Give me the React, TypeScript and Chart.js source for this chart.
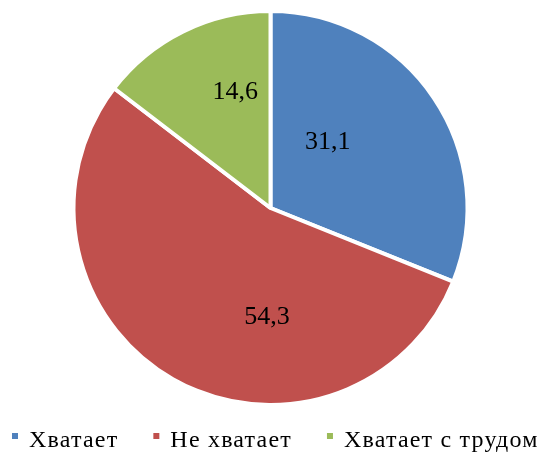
import React, { useEffect, useRef } from "react";
import { Chart, registerables } from "chart.js";

Chart.register(...registerables);

const categories = ["Хватает", "Не хватает", "Хватает с трудом"];
const values = [31.1, 54.3, 14.6];
const valueLabels = ["31,1", "54,3", "14,6"];
const colors = ["#4F81BD", "#C0504D", "#9BBB59"];

const FONT = '"Liberation Serif", "Times New Roman", serif';

const sliceLabelPlugin = {
  id: "sliceLabels",
  afterDatasetsDraw(chart: any, _args: any, opts: any) {
    const ctx = chart.ctx;
    const meta = chart.getDatasetMeta(0);
    ctx.save();
    ctx.font = `${opts.size}px ${FONT}`;
    ctx.fillStyle = "#000";
    ctx.textAlign = "center";
    ctx.textBaseline = "alphabetic";
    meta.data.forEach((arc: any, i: number) => {
      const r = arc.outerRadius;
      const [fx, fy] = opts.anchors[i];
      ctx.fillText(valueLabels[i], arc.x + fx * r, arc.y + fy * r);
    });
    ctx.restore();
  },
};

const bottomLegendPlugin = {
  id: "bottomLegend",
  afterDraw(chart: any, _args: any, opts: any) {
    const ctx = chart.ctx;
    ctx.save();
    ctx.font = `${opts.size}px ${FONT}`;
    ctx.textBaseline = "alphabetic";
    ctx.textAlign = "left";
    if ("letterSpacing" in ctx) (ctx as any).letterSpacing = `${opts.letterSpacing}px`;
    let x = opts.startX;
    chart.data.labels.forEach((label: string, i: number) => {
      ctx.fillStyle = chart.data.datasets[0].backgroundColor[i];
      ctx.fillRect(x, opts.boxY, opts.box, opts.box);
      ctx.fillStyle = "#000";
      const tx = x + opts.textOffset;
      ctx.fillText(label, tx, opts.baseline);
      x = tx + ctx.measureText(label).width + opts.gap;
    });
    ctx.restore();
  },
};

export default function App() {
  const ref = useRef<HTMLCanvasElement>(null);
  useEffect(() => {
    if (!ref.current) return;
    const chart = new Chart(ref.current, {
      type: "pie",
      data: {
        labels: categories,
        datasets: [
          {
            data: values,
            backgroundColor: colors,
            borderColor: "#FFFFFF",
            borderWidth: 4,
            hoverOffset: 0,
          },
        ],
      },
      options: {
        responsive: false,
        animation: false,
        radius: 197,
        layout: { padding: { left: 0, right: 5, top: 0, bottom: 36 } },
        plugins: {
          legend: { display: false },
          tooltip: { enabled: false },
          sliceLabels: {
            size: 26,
            anchors: [
              [0.29, -0.297],
              [-0.018, 0.59],
              [-0.179, -0.554],
            ],
          },
          bottomLegend: {
            size: 24,
            letterSpacing: 1.2,
            startX: 12,
            boxY: 433,
            box: 6,
            textOffset: 17,
            gap: 35,
            baseline: 447,
          },
        } as any,
      },
      plugins: [sliceLabelPlugin, bottomLegendPlugin],
    });
    return () => {
      chart.destroy();
    };
  }, []);
  return (
    <div style={{ position: "absolute", left: 0, top: 0, width: 546, height: 452, background: "#fff" }}>
      <canvas ref={ref} width={546} height={452} />
    </div>
  );
}
